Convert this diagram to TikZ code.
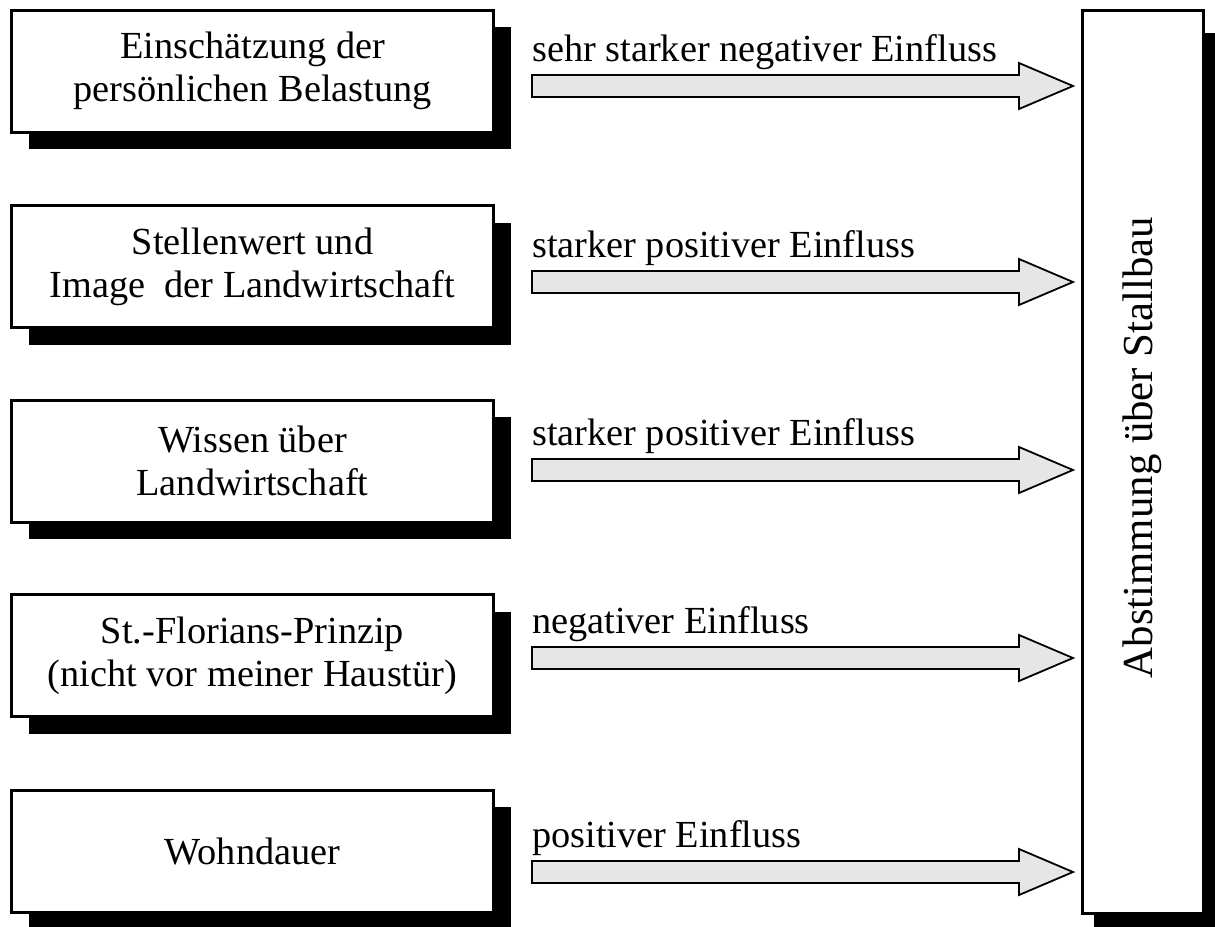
\documentclass[tikz,border=0pt]{standalone}
\usepackage{fontspec}
\setmainfont{Liberation Serif}
\usetikzlibrary{calc,shadows}
\definecolor{arrowgray}{HTML}{E6E6E6}
\begin{document}
\begin{tikzpicture}[x=1pt,y=-1pt,
  leftbox/.style={draw=black, line width=3pt, fill=white, minimum width=482pt, minimum height=122pt,
    align=center, inner sep=0pt, font=\fontsize{38.3}{43}\selectfont,
    drop shadow={fill=black, opacity=1, shadow xshift=17pt, shadow yshift=-17pt}},
  rightbox/.style={draw=black, line width=3pt, fill=white, minimum width=121pt, minimum height=903pt,
    inner sep=0pt,
    drop shadow={fill=black, opacity=1, shadow xshift=12pt, shadow yshift=-23pt}},
  lbl/.style={inner sep=0pt, anchor=base west, font=\fontsize{38.3}{43}\selectfont},
  blockarr/.style={draw=black, line width=1.8pt, fill=arrowgray, line join=miter}]
\useasboundingbox (0,0) rectangle (1215,926);
\fill[white] (0,0) rectangle (1215,926);

% left boxes
\node[leftbox] (b1) at (252.5,71)    {Einschätzung der\\persönlichen Belastung};
\node[leftbox] (b2) at (252.5,266.5) {Stellenwert und\\Image\ \ der Landwirtschaft};
\node[leftbox] (b3) at (252.5,461)   {Wissen über\\Landwirtschaft};
\node[leftbox] (b4) at (252.5,655.5) {St.-Florians-Prinzip\\(nicht vor meiner Haustür)};
\node[leftbox] (b5) at (252.5,851)   {Wohndauer};

% right box
\node[rightbox] (R) at (1142.5,461.5) {};
\node[rotate=90, inner sep=0pt, font=\fontsize{42.8}{46}\selectfont] (Rt) at ($(R.center)+(0,-14)$) {Abstimmung über Stallbau};

% arrow end points
\coordinate (s1) at (532,86);  \coordinate (e1) at (1073,86);
\coordinate (s2) at (532,282); \coordinate (e2) at (1073,282);
\coordinate (s3) at (532,470); \coordinate (e3) at (1073,470);
\coordinate (s4) at (532,658); \coordinate (e4) at (1073,658);
\coordinate (s5) at (532,872); \coordinate (e5) at (1073,872);

\foreach \i in {1,...,5}{
  \draw[blockarr] ($(s\i)+(0,-11)$) -- ($(e\i)+(-54,-11)$) -- ($(e\i)+(-54,-23)$) -- (e\i)
    -- ($(e\i)+(-54,23)$) -- ($(e\i)+(-54,11)$) -- ($(s\i)+(0,11)$) -- cycle;
}

% labels
\node[lbl] (l1) at ($(s1)+(0,-25)$) {sehr starker negativer Einfluss};
\node[lbl] (l2) at ($(s2)+(0,-25)$) {starker positiver Einfluss};
\node[lbl] (l3) at ($(s3)+(0,-25)$) {starker positiver Einfluss};
\node[lbl] (l4) at ($(s4)+(0,-25)$) {negativer Einfluss};
\node[lbl] (l5) at ($(s5)+(0,-25)$) {positiver Einfluss};
\end{tikzpicture}
\end{document}
